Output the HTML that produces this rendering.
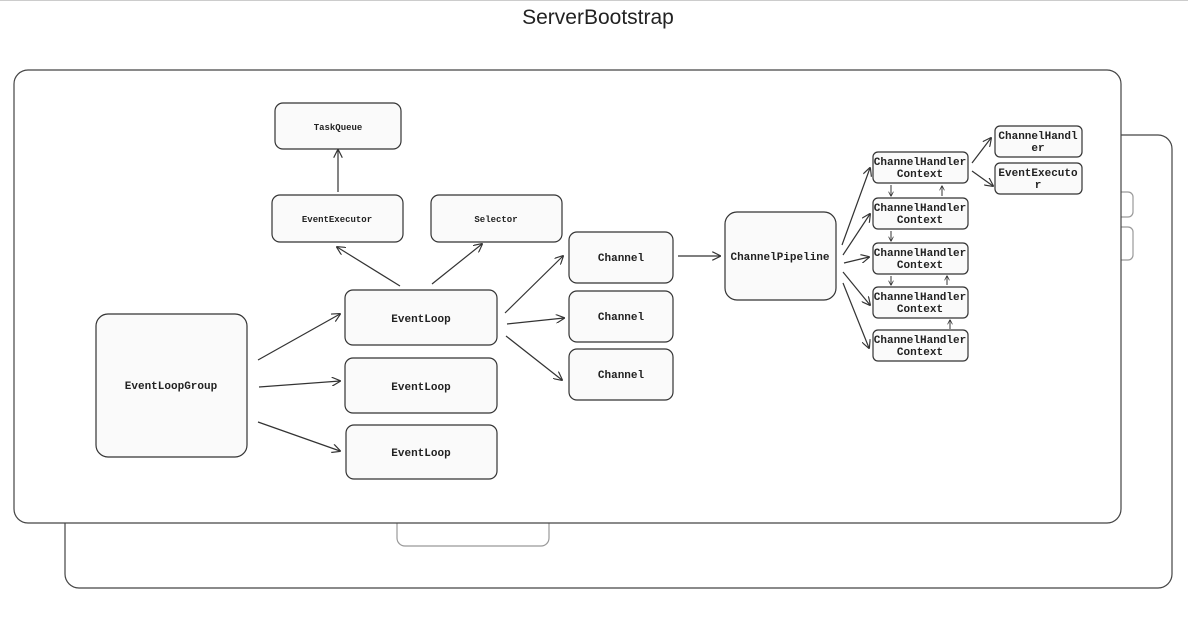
<!DOCTYPE html>
<html><head><meta charset="utf-8"><style>
html,body{margin:0;padding:0;background:#fff;width:1188px;height:624px;overflow:hidden}
text{font-family:"Liberation Mono","DejaVu Sans Mono",monospace;font-size:11px;fill:#222;text-anchor:middle;font-weight:bold}
</style></head><body>
<svg width="1188" height="624" viewBox="0 0 1188 624" xmlns="http://www.w3.org/2000/svg">
<defs>
<marker id="a" viewBox="0 0 10 10" refX="9" refY="5" markerWidth="9" markerHeight="9" orient="auto-start-reverse" markerUnits="userSpaceOnUse"><path d="M0,0 L10,5 L0,10" fill="none" stroke="#333" stroke-width="1.3"/></marker>
<marker id="s" viewBox="0 0 10 10" refX="9" refY="5" markerWidth="5" markerHeight="5" orient="auto" markerUnits="userSpaceOnUse"><path d="M0,0 L10,5 L0,10" fill="none" stroke="#333" stroke-width="1.5"/></marker>
</defs>
<line x1="0" y1="0.5" x2="1188" y2="0.5" stroke="#ccc"/>
<text x="598" y="24" style="font-family:'Liberation Sans',sans-serif;font-size:21px;font-weight:normal">ServerBootstrap</text>
<g fill="#fff" stroke="#444" stroke-width="1.2">
<rect x="65" y="135" width="1107" height="453" rx="14"/>
<rect x="397" y="500" width="152" height="46" rx="8" stroke="#999"/>
<rect x="1110" y="192" width="23" height="25" rx="5" stroke="#999"/>
<rect x="1110" y="227" width="23" height="33" rx="5" stroke="#999"/>
<rect x="14" y="70" width="1107" height="453" rx="14"/>
</g>
<g fill="#fafafa" stroke="#333" stroke-width="1.2">
<rect x="275" y="103" width="126" height="46" rx="8"/>
<rect x="272" y="195" width="131" height="47" rx="8"/>
<rect x="431" y="195" width="131" height="47" rx="8"/>
<rect x="345" y="290" width="152" height="55" rx="8"/>
<rect x="345" y="358" width="152" height="55" rx="8"/>
<rect x="346" y="425" width="151" height="54" rx="8"/>
<rect x="96" y="314" width="151" height="143" rx="12"/>
<rect x="569" y="232" width="104" height="51" rx="8"/>
<rect x="569" y="291" width="104" height="51" rx="8"/>
<rect x="569" y="349" width="104" height="51" rx="8"/>
<rect x="725" y="212" width="111" height="88" rx="12"/>
<rect x="873" y="152" width="95" height="31" rx="5"/>
<rect x="873" y="198" width="95" height="31" rx="5"/>
<rect x="873" y="243" width="95" height="31" rx="5"/>
<rect x="873" y="287" width="95" height="31" rx="5"/>
<rect x="873" y="330" width="95" height="31" rx="5"/>
<rect x="995" y="126" width="87" height="31" rx="5"/>
<rect x="995" y="163" width="87" height="31" rx="5"/>
</g>
<text x="338" y="130" style="font-size:9px">TaskQueue</text>
<text x="337" y="222" style="font-size:9px">EventExecutor</text>
<text x="496" y="222" style="font-size:9px">Selector</text>
<text x="421" y="322">EventLoop</text>
<text x="421" y="390">EventLoop</text>
<text x="421" y="456">EventLoop</text>
<text x="171" y="389">EventLoopGroup</text>
<text x="621" y="261">Channel</text>
<text x="621" y="320">Channel</text>
<text x="621" y="378">Channel</text>
<text x="780" y="260">ChannelPipeline</text>
<g style="font-size:10.5px">
<text x="920" y="165">ChannelHandler</text><text x="920" y="177">Context</text>
<text x="920" y="211">ChannelHandler</text><text x="920" y="223">Context</text>
<text x="920" y="256">ChannelHandler</text><text x="920" y="268">Context</text>
<text x="920" y="300">ChannelHandler</text><text x="920" y="312">Context</text>
<text x="920" y="343">ChannelHandler</text><text x="920" y="355">Context</text>
<text x="1038" y="139">ChannelHandl</text><text x="1038" y="151">er</text>
<text x="1038" y="176">EventExecuto</text><text x="1038" y="188">r</text>
</g>
<g stroke="#333" stroke-width="1.2" fill="none" marker-end="url(#a)">
<line x1="338" y1="192" x2="338" y2="150"/>
<line x1="400" y1="286" x2="337" y2="247"/>
<line x1="432" y1="284" x2="482" y2="244"/>
<line x1="258" y1="360" x2="340" y2="314"/>
<line x1="259" y1="387" x2="340" y2="381"/>
<line x1="258" y1="422" x2="340" y2="451"/>
<line x1="505" y1="313" x2="563" y2="256"/>
<line x1="507" y1="324" x2="564" y2="318"/>
<line x1="506" y1="336" x2="562" y2="380"/>
<line x1="678" y1="256" x2="720" y2="256"/>
<line x1="842" y1="245" x2="870" y2="168"/>
<line x1="843" y1="255" x2="870" y2="214"/>
<line x1="844" y1="263" x2="869" y2="257"/>
<line x1="843" y1="272" x2="870" y2="305"/>
<line x1="843" y1="283" x2="869" y2="348"/>
<line x1="972" y1="163" x2="991" y2="138"/>
<line x1="972" y1="171" x2="993" y2="186"/>
</g>
<g stroke="#333" stroke-width="1" marker-end="url(#s)">
<line x1="891" y1="185" x2="891" y2="196"/><line x1="942" y1="196" x2="942" y2="186"/>
<line x1="891" y1="231" x2="891" y2="241"/>
<line x1="891" y1="276" x2="891" y2="285"/><line x1="947" y1="285" x2="947" y2="276"/>
<line x1="950" y1="329" x2="950" y2="320"/>
</g>
</svg>
</body></html>
